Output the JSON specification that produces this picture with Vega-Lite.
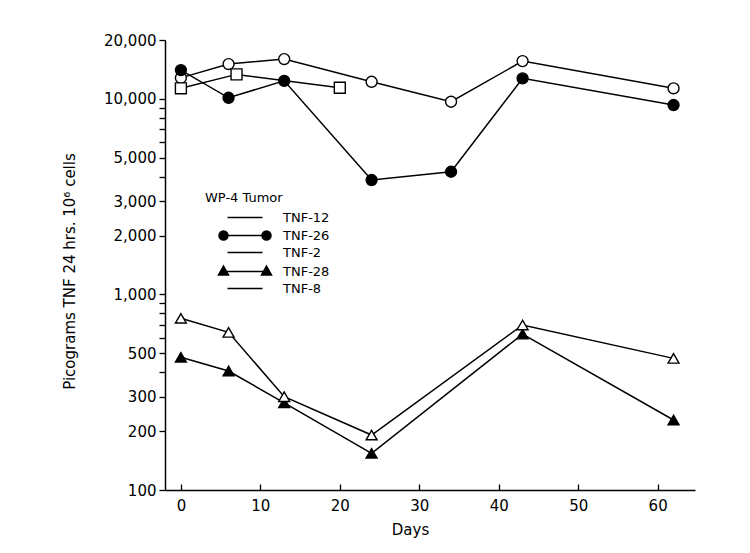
{
  "$schema": "https://vega.github.io/schema/vega-lite/v6.json",
  "width": 530,
  "height": 450,
  "autosize": "none",
  "padding": {"left": 165, "top": 40, "right": 55, "bottom": 63},
  "background": "white",
  "config": {
    "view": {"stroke": null},
    "font": "DejaVu Sans",
    "axis": {
      "grid": false,
      "domainColor": "black",
      "domainWidth": 1.5,
      "tickColor": "black",
      "tickWidth": 1.3,
      "labelColor": "black",
      "titleColor": "black",
      "labelFont": "DejaVu Sans",
      "titleFont": "DejaVu Sans",
      "labelFontSize": 15,
      "titleFontSize": 15,
      "titleFontWeight": "normal",
      "labelFlush": false,
      "labelOverlap": false
    }
  },
  "data": {
    "values": [
      {"series": "TNF-12", "day": 0, "value": 12800},
      {"series": "TNF-12", "day": 6, "value": 15060},
      {"series": "TNF-12", "day": 13, "value": 15980},
      {"series": "TNF-12", "day": 24, "value": 12230},
      {"series": "TNF-12", "day": 34, "value": 9670},
      {"series": "TNF-12", "day": 43, "value": 15600},
      {"series": "TNF-12", "day": 62, "value": 11320},
      {"series": "TNF-26", "day": 0, "value": 14030},
      {"series": "TNF-26", "day": 6, "value": 10130},
      {"series": "TNF-26", "day": 13, "value": 12370},
      {"series": "TNF-26", "day": 24, "value": 3845},
      {"series": "TNF-26", "day": 34, "value": 4240},
      {"series": "TNF-26", "day": 43, "value": 12730},
      {"series": "TNF-26", "day": 62, "value": 9300},
      {"series": "TNF-2", "day": 0, "value": 11320},
      {"series": "TNF-2", "day": 7, "value": 13340},
      {"series": "TNF-2", "day": 20, "value": 11400},
      {"series": "TNF-28", "day": 0, "value": 477},
      {"series": "TNF-28", "day": 6, "value": 406},
      {"series": "TNF-28", "day": 13, "value": 279},
      {"series": "TNF-28", "day": 24, "value": 154},
      {"series": "TNF-28", "day": 43, "value": 627},
      {"series": "TNF-28", "day": 62, "value": 228},
      {"series": "TNF-8", "day": 0, "value": 755},
      {"series": "TNF-8", "day": 6, "value": 640},
      {"series": "TNF-8", "day": 13, "value": 300},
      {"series": "TNF-8", "day": 24, "value": 191},
      {"series": "TNF-8", "day": 43, "value": 698},
      {"series": "TNF-8", "day": 62, "value": 471}
    ]
  },
  "encoding": {
    "x": {
      "field": "day",
      "type": "quantitative",
      "scale": {"domain": [-2, 64.7], "nice": false, "zero": false},
      "axis": {
        "values": [0, 10, 20, 30, 40, 50, 60],
        "title": "Days",
        "tickSize": -6,
        "labelPadding": 14,
        "titleX": 245,
        "titleY": 32,
        "titleBaseline": "top",
        "titleAnchor": "middle"
      }
    },
    "y": {
      "field": "value",
      "type": "quantitative",
      "scale": {"type": "log", "domain": [100, 20000], "nice": false},
      "axis": {
        "values": [100, 200, 300, 400, 500, 600, 700, 800, 900, 1000, 2000, 3000, 4000, 5000, 6000, 7000, 8000, 9000, 10000, 20000],
        "format": ",",
        "labelExpr": "indexof([100,200,300,500,1000,2000,3000,5000,10000,20000], datum.value) >= 0 ? datum.label : ''",
        "tickSize": 6,
        "labelPadding": 3,
        "title": "Picograms TNF 24 hrs. 10⁶ cells",
        "titleX": -88,
        "titleY": 231,
        "titleAnchor": "middle"
      }
    }
  },
  "layer": [
    {
      "mark": {"type": "line", "strokeWidth": 1.5},
      "encoding": {
        "detail": {"field": "series", "type": "nominal"},
        "color": {
          "field": "series",
          "type": "nominal",
          "scale": {
            "domain": ["TNF-12", "TNF-26", "TNF-2", "TNF-28", "TNF-8"],
            "range": ["black", "black", "black", "black", "black"]
          },
          "legend": {
            "title": "WP-4 Tumor",
            "orient": "none",
            "legendX": 40,
            "legendY": 152,
            "padding": 0,
            "titleFont": "DejaVu Sans",
            "titleFontSize": 13,
            "titleFontWeight": "normal",
            "titleColor": "black",
            "titlePadding": 6,
            "labelFont": "DejaVu Sans",
            "labelFontSize": 13,
            "labelColor": "black",
            "symbolSize": 100,
            "symbolOffset": 33.5,
            "labelOffset": 31.5,
            "rowPadding": 3,
            "symbolStrokeWidth": 1.5,
            "encode": {
              "symbols": {
                "update": {
                  "shape": {"signal": "datum.value === 'TNF-26' ? 'M-4.3,0H4.3M-5.2,0A0.9,0.9,0,1,0,-3.4,0A0.9,0.9,0,1,0,-5.2,0ZM3.4,0A0.9,0.9,0,1,0,5.2,0A0.9,0.9,0,1,0,3.4,0Z' : datum.value === 'TNF-28' ? 'M-4.3,0H4.3M-4.3,-1.1L-3.3,0.7L-5.3,0.7ZM4.3,-1.1L5.3,0.7L3.3,0.7Z' : 'M-3.5,0H3.5'"},
                  "fill": {"value": "black"},
                  "stroke": {"value": "black"},
                  "strokeWidth": {"value": 1.5},
                  "opacity": {"value": 1}
                }
              }
            }
          }
        }
      }
    },
    {
      "mark": {"type": "point", "filled": true, "stroke": "black", "strokeWidth": 1.4, "opacity": 1, "size": 120},
      "encoding": {
        "shape": {
          "field": "series",
          "type": "nominal",
          "scale": {
            "domain": ["TNF-8", "TNF-28", "TNF-2", "TNF-26", "TNF-12"],
            "range": ["triangle-up", "triangle-up", "square", "circle", "circle"]
          },
          "legend": null
        },
        "fill": {
          "field": "series",
          "type": "nominal",
          "scale": {
            "domain": ["TNF-8", "TNF-28", "TNF-2", "TNF-26", "TNF-12"],
            "range": ["white", "black", "white", "black", "white"]
          },
          "legend": null
        }
      }
    }
  ]
}
